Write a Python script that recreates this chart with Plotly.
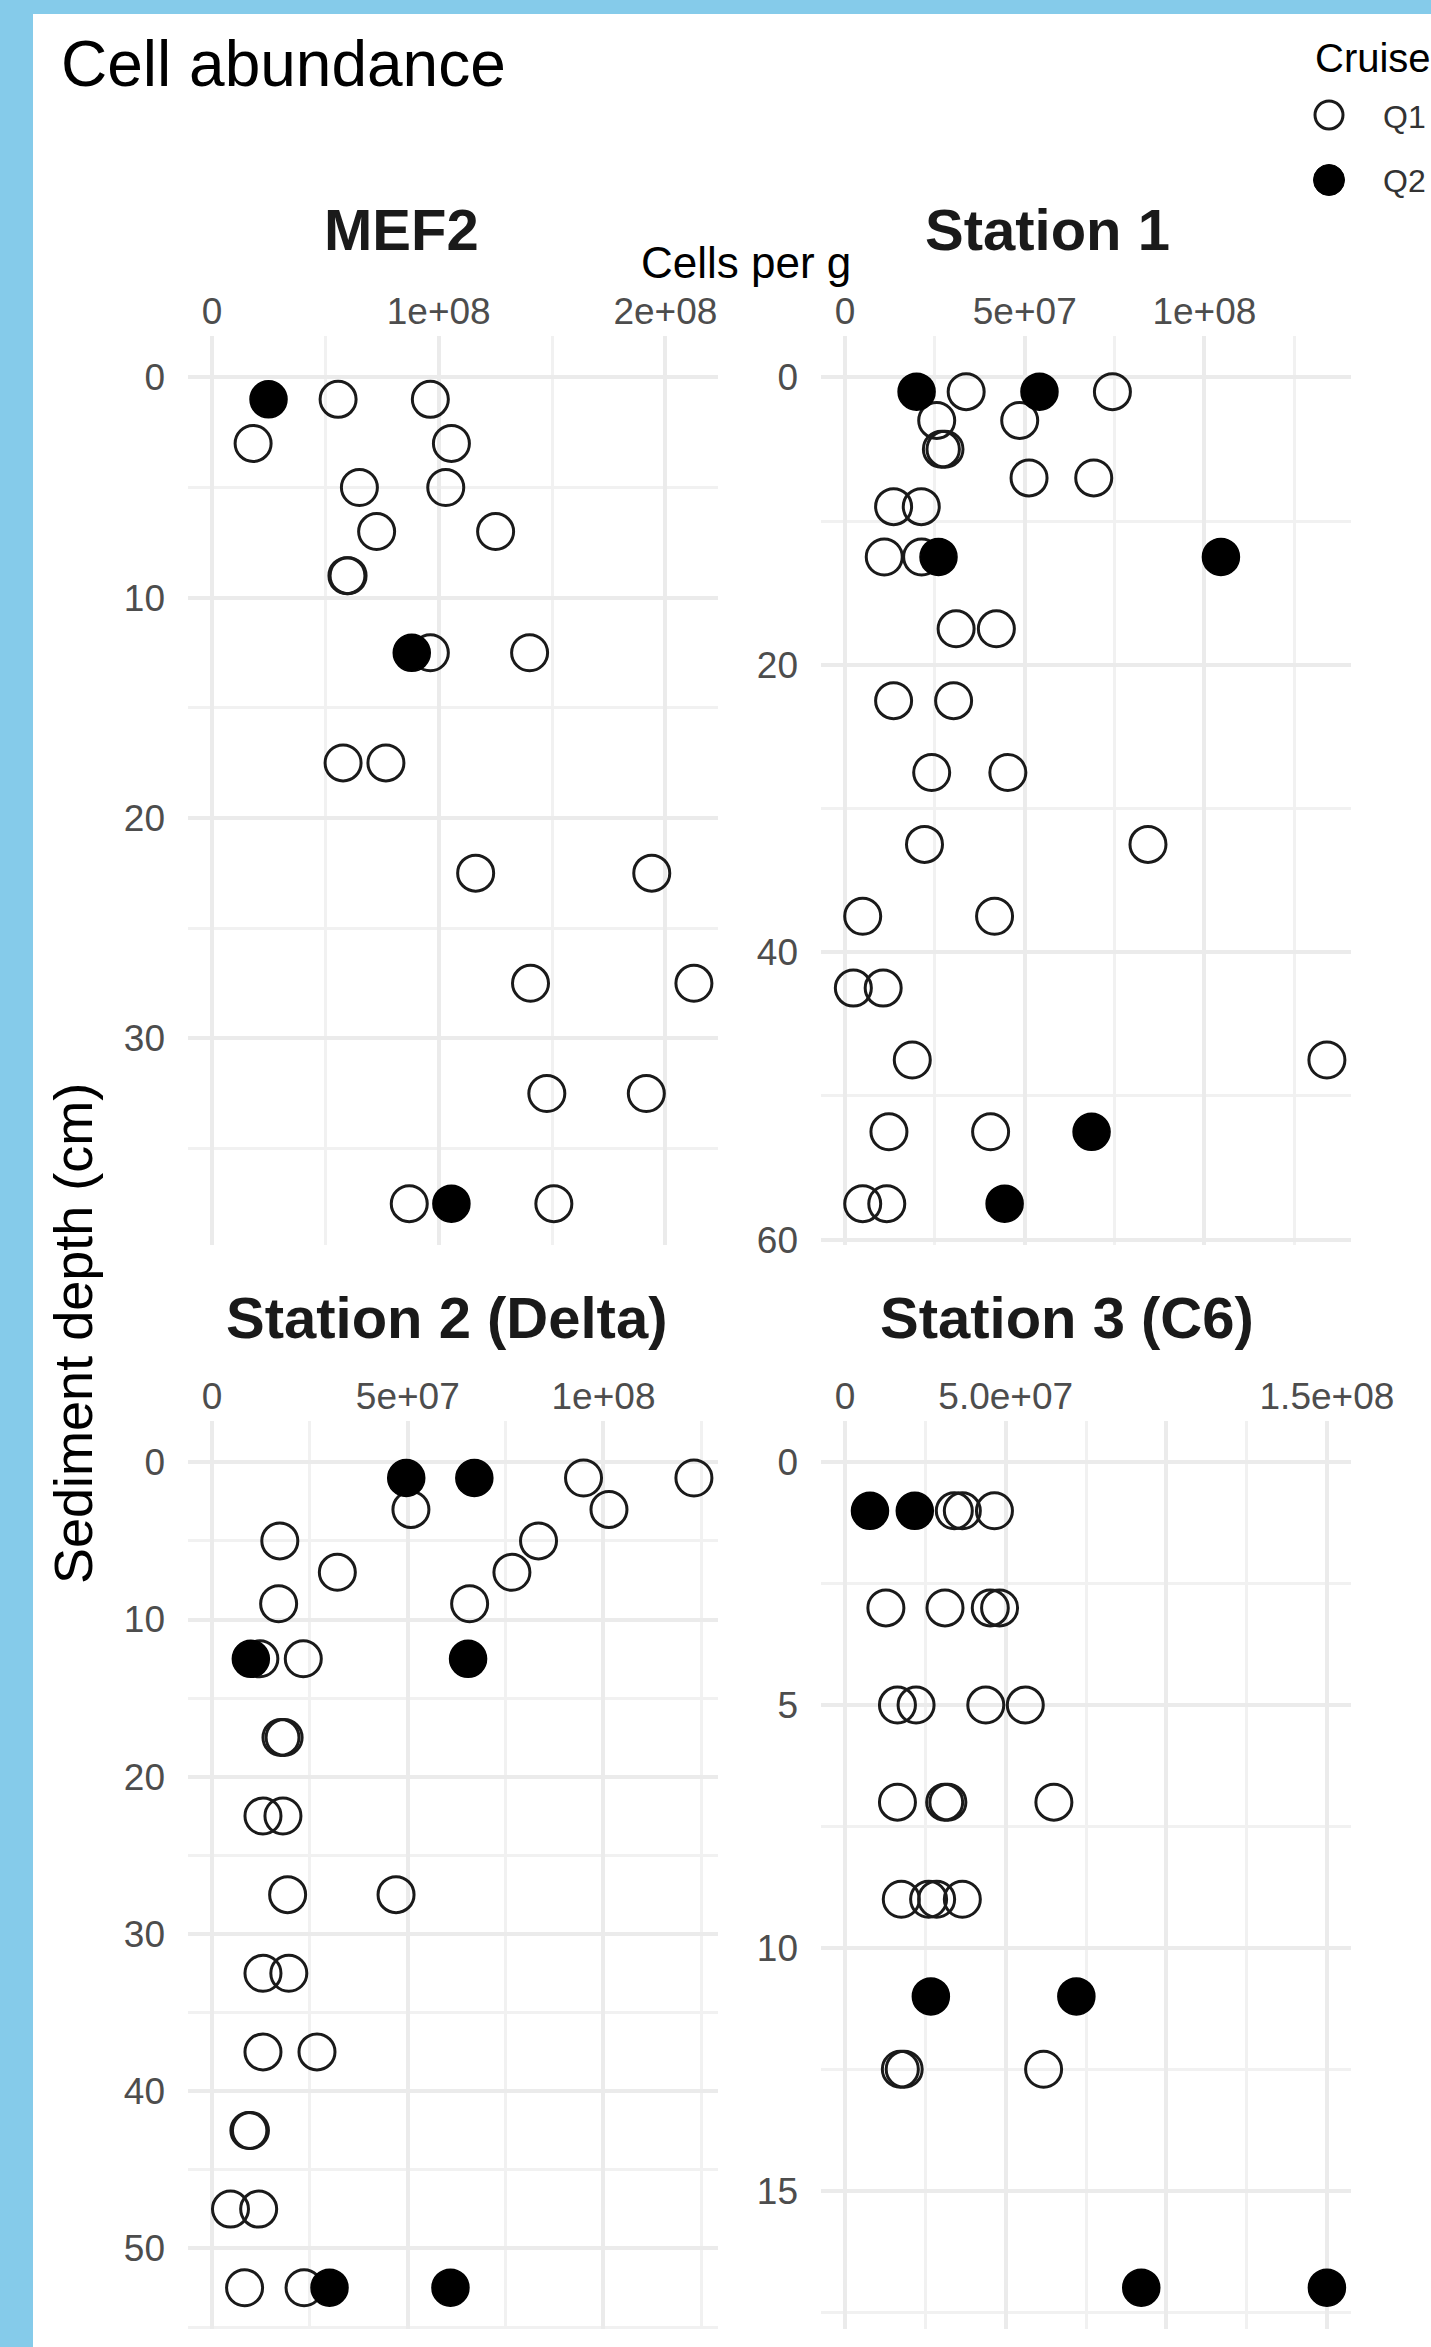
import plotly.graph_objects as go

W, H = 1431, 2347

# ---- data: sediment depth (cm) and cell abundance (cells per g) ----
facet_titles = ["MEF2", "Station 1", "Station 2 (Delta)", "Station 3 (C6)"]
cruise_names = ["Q1", "Q2"]

mef2_q1_depth = [1, 1, 3, 3, 5, 5, 7, 7, 9, 9, 12.5, 12.5, 17.5, 17.5,
                 22.5, 22.5, 27.5, 27.5, 32.5, 32.5, 37.5, 37.5]
mef2_q1_cells = [5.56e7, 9.63e7, 1.81e7, 1.056e8, 6.50e7, 1.031e8, 7.26e7, 1.251e8,
                 5.95e7, 6.00e7, 9.63e7, 1.401e8, 5.78e7, 7.67e7, 1.163e8, 1.940e8,
                 1.405e8, 2.126e8, 1.477e8, 1.916e8, 8.70e7, 1.508e8]
mef2_q2_depth = [1, 12.5, 37.5]
mef2_q2_cells = [2.49e7, 8.81e7, 1.056e8]

st1_q1_depth = [1, 1, 3, 3, 5, 5, 7, 7, 9, 9, 12.5, 12.5, 17.5, 17.5, 22.5, 22.5,
                27.5, 27.5, 32.5, 32.5, 37.5, 37.5, 42.5, 42.5, 47.5, 47.5,
                52.5, 52.5, 57.5, 57.5]
st1_q1_cells = [3.37e7, 7.44e7, 2.55e7, 4.86e7, 2.68e7, 2.78e7, 5.12e7, 6.92e7,
                1.35e7, 2.12e7, 1.09e7, 2.13e7, 3.09e7, 4.21e7, 1.35e7, 3.02e7,
                2.41e7, 4.53e7, 2.21e7, 8.43e7, 0.49e7, 4.16e7, 0.23e7, 1.06e7,
                1.87e7, 1.341e8, 1.22e7, 4.05e7, 0.49e7, 1.16e7]
st1_q2_depth = [1, 1, 12.5, 12.5, 52.5, 57.5]
st1_q2_cells = [1.99e7, 5.41e7, 2.60e7, 1.046e8, 6.86e7, 4.44e7]

st2_q1_depth = [1, 1, 3, 3, 5, 5, 7, 7, 9, 9, 12.5, 12.5, 17.5, 17.5, 22.5, 22.5,
                27.5, 27.5, 32.5, 32.5, 37.5, 37.5, 42.5, 42.5, 47.5, 47.5,
                52.5, 52.5]
st2_q1_cells = [9.49e7, 1.231e8, 5.08e7, 1.014e8, 1.73e7, 8.34e7, 3.20e7, 7.66e7,
                1.70e7, 6.58e7, 1.22e7, 2.33e7, 1.76e7, 1.84e7, 1.30e7, 1.81e7,
                1.93e7, 4.70e7, 1.30e7, 1.96e7, 1.30e7, 2.68e7, 0.94e7, 0.98e7,
                0.47e7, 1.19e7, 0.83e7, 2.35e7]
st2_q2_depth = [1, 1, 12.5, 12.5, 52.5, 52.5]
st2_q2_cells = [4.96e7, 6.70e7, 0.99e7, 6.54e7, 3.00e7, 6.09e7]

st3_q1_depth = [1, 1, 1, 3, 3, 3, 3, 5, 5, 5, 5, 7, 7, 7, 7, 9, 9, 9, 9,
                12.5, 12.5, 12.5]
st3_q1_cells = [3.40e7, 3.65e7, 4.65e7, 1.27e7, 3.11e7, 4.52e7, 4.81e7,
                1.63e7, 2.21e7, 4.38e7, 5.61e7, 1.63e7, 3.10e7, 3.20e7, 6.50e7,
                1.75e7, 2.60e7, 2.85e7, 3.65e7, 1.72e7, 1.84e7, 6.18e7]
st3_q2_depth = [1, 1, 11, 11, 17, 17]
st3_q2_cells = [0.775e7, 2.17e7, 2.67e7, 7.20e7, 9.22e7, 1.50e8]

# ---- axis breaks ----
x_ticks = [[0, 1e8, 2e8], [0, 5e7, 1e8], [0, 5e7, 1e8], [0, 5e7, 1e8, 1.5e8]]
x_labels = [["0", "1e+08", "2e+08"], ["0", "5e+07", "1e+08"],
            ["0", "5e+07", "1e+08"], ["0", "5.0e+07", "", "1.5e+08"]]
x_minor_step = [5e7, 2.5e7, 2.5e7, 2.5e7]
y_ticks = [[0, 10, 20, 30], [0, 20, 40, 60], [0, 10, 20, 30, 40, 50], [0, 5, 10, 15]]
y_minor_step = [5, 10, 5, 2.5]

facet_data = [
    (mef2_q1_depth, mef2_q1_cells, mef2_q2_depth, mef2_q2_cells),
    (st1_q1_depth, st1_q1_cells, st1_q2_depth, st1_q2_cells),
    (st2_q1_depth, st2_q1_cells, st2_q2_depth, st2_q2_cells),
    (st3_q1_depth, st3_q1_cells, st3_q2_depth, st3_q2_cells),
]

# ---- page geometry (pixels) ----
col_px = [(188, 718), (821, 1351)]
row_px = [(336, 1245), (1421, 2329)]
cells = [(0, 0), (0, 1), (1, 0), (1, 1)]  # (row, col) of each facet


def fx(px):
    return px / W


def fy(py):
    return 1 - py / H


FONT = "Liberation Sans, Arial, sans-serif"
GRID = "#EBEBEB"
MINOR_GRID = "#F1F1F1"
TICK_COLOR = "#4D4D4D"

fig = go.Figure()
layout_axes = {}

for i, (q1d, q1c, q2d, q2c) in enumerate(facet_data):
    r, c = cells[i]
    n = "" if i == 0 else str(i + 1)
    xmax = max(q1c + q2c)
    dmax = max(q1d + q2d)

    fig.add_trace(go.Scatter(
        x=q1c, y=q1d, mode="markers", name=cruise_names[0], showlegend=False,
        xaxis="x" + n, yaxis="y" + n,
        marker=dict(symbol="circle-open", size=36, color="#1A1A1A",
                    line=dict(width=3, color="#1A1A1A")),
    ))
    fig.add_trace(go.Scatter(
        x=q2c, y=q2d, mode="markers", name=cruise_names[1], showlegend=False,
        xaxis="x" + n, yaxis="y" + n,
        marker=dict(symbol="circle", size=37, color="#000000",
                    line=dict(width=1.5, color="#000000")),
    ))

    layout_axes["xaxis" + n] = dict(
        domain=[fx(col_px[c][0]), fx(col_px[c][1])],
        range=[-0.05 * xmax, 1.05 * xmax],
        anchor="y" + n, side="top", automargin=False,
        tickmode="array", tickvals=x_ticks[i], ticktext=x_labels[i],
        showgrid=True, gridcolor=GRID, gridwidth=4,
        zeroline=False, showline=False, ticks="",
        tickfont=dict(family=FONT, size=37, color=TICK_COLOR),
        ticklabelstandoff=4,
        minor=dict(tick0=0, dtick=x_minor_step[i], showgrid=True,
                   gridcolor=MINOR_GRID, gridwidth=3),
    )
    layout_axes["yaxis" + n] = dict(
        domain=[fy(row_px[r][1]), fy(row_px[r][0])],
        range=[1.05 * dmax, -0.05 * dmax],
        anchor="x" + n, automargin=False,
        tickmode="array", tickvals=y_ticks[i],
        ticktext=[str(v) for v in y_ticks[i]],
        showgrid=True, gridcolor=GRID, gridwidth=4,
        zeroline=False, showline=False, ticks="",
        tickfont=dict(family=FONT, size=37, color=TICK_COLOR),
        ticklabelstandoff=22,
        minor=dict(tick0=0, dtick=y_minor_step[i], showgrid=True,
                   gridcolor=MINOR_GRID, gridwidth=3),
    )

annotations = [
    dict(text="Cell abundance", x=fx(59), y=fy(64), xanchor="left", yanchor="middle",
         font=dict(family=FONT, size=64, color="#000000")),
    dict(text="<b>MEF2</b>", x=fx(401), y=fy(230), xanchor="center", yanchor="middle",
         font=dict(family=FONT, size=58, color="#1A1A1A")),
    dict(text="<b>Station 1</b>", x=fx(1047), y=fy(230), xanchor="center", yanchor="middle",
         font=dict(family=FONT, size=58, color="#1A1A1A")),
    dict(text="<b>Station 2 (Delta)</b>", x=fx(447), y=fy(1317), xanchor="center",
         yanchor="middle", font=dict(family=FONT, size=58, color="#1A1A1A")),
    dict(text="<b>Station 3 (C6)</b>", x=fx(1067), y=fy(1317), xanchor="center",
         yanchor="middle", font=dict(family=FONT, size=58, color="#1A1A1A")),
    dict(text="Cells per g", x=fx(746), y=fy(262), xanchor="center", yanchor="middle",
         font=dict(family=FONT, size=44, color="#000000")),
    dict(text="Sediment depth (cm)", x=fx(73), y=fy(1334), xanchor="center",
         yanchor="middle", textangle=-90,
         font=dict(family=FONT, size=54, color="#000000")),
    dict(text="Cruise", x=fx(1313), y=fy(58), xanchor="left", yanchor="middle",
         font=dict(family=FONT, size=40, color="#000000")),
    dict(text=cruise_names[0], x=fx(1381), y=fy(117), xanchor="left", yanchor="middle",
         font=dict(family=FONT, size=32, color="#333333")),
    dict(text=cruise_names[1], x=fx(1381), y=fy(181), xanchor="left", yanchor="middle",
         font=dict(family=FONT, size=32, color="#333333")),
]
for a in annotations:
    a.update(xref="paper", yref="paper", showarrow=False)

# white page panel inside the blue frame, plus the legend keys
shapes = [
    dict(type="rect", xref="paper", yref="paper", x0=fx(33), x1=1.01, y0=-0.01, y1=fy(14),
         fillcolor="#FFFFFF", line=dict(width=0), layer="below"),
    dict(type="circle", xref="paper", yref="paper",
         x0=fx(1329 - 14), x1=fx(1329 + 14), y0=fy(115 + 14), y1=fy(115 - 14),
         line=dict(color="#1A1A1A", width=3), fillcolor="rgba(0,0,0,0)"),
    dict(type="circle", xref="paper", yref="paper",
         x0=fx(1329 - 15.5), x1=fx(1329 + 15.5), y0=fy(180 + 15.5), y1=fy(180 - 15.5),
         line=dict(color="#000000", width=1), fillcolor="#000000"),
]

fig.update_layout(
    template="none",
    width=W, height=H,
    margin=dict(l=0, r=0, t=0, b=0, pad=0, autoexpand=False),
    paper_bgcolor="#85CBEA",
    plot_bgcolor="rgba(0,0,0,0)",
    showlegend=False,
    annotations=annotations,
    shapes=shapes,
    **layout_axes,
)

fig.write_html("out.html")
